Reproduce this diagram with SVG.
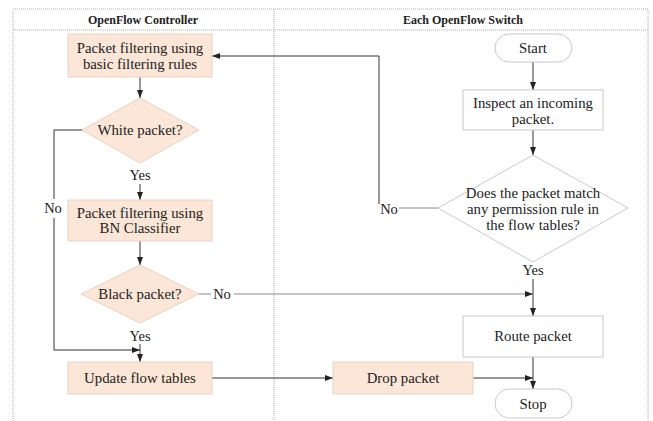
<svg xmlns="http://www.w3.org/2000/svg" width="653" height="421" viewBox="0 0 653 421">
  <style>
    .lane { fill: none; stroke: #9a9a9a; stroke-width: 0.8; stroke-dasharray: 1 1; }
    .hdr { font-family: "Liberation Serif", "Times New Roman", serif; font-weight: bold; font-size: 12px; fill: #222; text-anchor: middle; dominant-baseline: central; }
    .txt { font-family: "Liberation Serif", "Times New Roman", serif; font-size: 14.8px; fill: #222; text-anchor: middle; dominant-baseline: central; }
    .lbl { font-family: "Liberation Serif", "Times New Roman", serif; font-size: 14.5px; fill: #222; text-anchor: middle; dominant-baseline: central; }
    .proc { fill: #fbe6d7; stroke: #e9d2c2; stroke-width: 1; }
    .plain { fill: #ffffff; stroke: #c9c9c9; stroke-width: 1; }
    .edge { fill: none; stroke: #333; stroke-width: 1; }
    .edge-lt { fill: none; stroke: #8a8a8a; stroke-width: 1; }
  </style>
  <defs>
    <marker id="arr" viewBox="0 0 8 6" refX="8" refY="3" markerWidth="8" markerHeight="6" markerUnits="userSpaceOnUse" orient="auto">
      <path d="M0,0 L8,3 L0,6 Z" fill="#222"/>
    </marker>
  </defs>

  <rect width="653" height="421" fill="#ffffff"/>

  <!-- swimlane frame -->
  <g id="lanes">
    <path class="lane" d="M13,421 V9 H648 V421"/>
    <line class="lane" x1="13" y1="30" x2="648" y2="30"/>
    <line class="lane" x1="274" y1="9" x2="274" y2="421"/>
    <text class="hdr" x="143" y="20">OpenFlow Controller</text>
    <text class="hdr" x="463" y="20">Each OpenFlow Switch</text>
  </g>

  <!-- connectors -->
  <g id="connectors">
    <line class="edge" x1="140" y1="77" x2="140" y2="98" marker-end="url(#arr)"/>
    <line class="edge" x1="140" y1="184" x2="140" y2="200" marker-end="url(#arr)"/>
    <path class="edge" d="M82,130 H54 V199"/>
    <path class="edge" d="M54,218 V350 H140" marker-end="url(#arr)"/>
    <line class="edge" x1="140" y1="241" x2="140" y2="265" marker-end="url(#arr)"/>
    <line class="edge-lt" x1="199" y1="294" x2="211" y2="294"/>
    <line class="edge-lt" x1="234" y1="294" x2="533" y2="294" marker-end="url(#arr)"/>
    <line class="edge" x1="140" y1="344" x2="140" y2="362" marker-end="url(#arr)"/>
    <line class="edge" x1="212" y1="378" x2="333" y2="378" marker-end="url(#arr)"/>
    <line class="edge" x1="473" y1="378" x2="533" y2="378" marker-end="url(#arr)"/>
    <line class="edge" x1="533" y1="62" x2="533" y2="90" marker-end="url(#arr)"/>
    <line class="edge" x1="533" y1="130" x2="533" y2="155" marker-end="url(#arr)"/>
    <line class="edge-lt" x1="438" y1="208" x2="399" y2="208"/>
    <path class="edge" d="M379,204 V56 H212" marker-end="url(#arr)"/>
    <line class="edge" x1="533" y1="279" x2="533" y2="316" marker-end="url(#arr)"/>
    <line class="edge" x1="533" y1="357" x2="533" y2="389" marker-end="url(#arr)"/>
    <text class="lbl" x="140" y="175">Yes</text>
    <text class="lbl" x="53" y="208">No</text>
    <text class="lbl" x="222" y="294">No</text>
    <text class="lbl" x="140" y="336">Yes</text>
    <text class="lbl" x="389" y="209">No</text>
    <text class="lbl" x="533" y="270">Yes</text>
  </g>

  <g id="filter-basic">
    <rect class="proc" x="68" y="34" width="144" height="43"/>
    <text class="txt" x="140" y="48">Packet filtering using</text>
    <text class="txt" x="140" y="64">basic filtering rules</text>
  </g>

  <g id="white-packet">
    <polygon class="proc" points="140,98 199,130 140,163 82,130"/>
    <text class="txt" x="140" y="130">White packet?</text>
  </g>

  <g id="filter-bn">
    <rect class="proc" x="68" y="200" width="144" height="41"/>
    <text class="txt" x="140" y="213">Packet filtering using</text>
    <text class="txt" x="140" y="228">BN Classifier</text>
  </g>

  <g id="black-packet">
    <polygon class="proc" points="140,265 199,294 140,323 81,294"/>
    <text class="txt" x="140" y="294">Black packet?</text>
  </g>

  <g id="update-tables">
    <rect class="proc" x="68" y="362" width="144" height="32"/>
    <text class="txt" x="140" y="378">Update flow tables</text>
  </g>

  <g id="drop-packet">
    <rect class="proc" x="333" y="362" width="140" height="32"/>
    <text class="txt" x="403" y="378">Drop packet</text>
  </g>

  <g id="start">
    <rect class="plain" x="495" y="34" width="77" height="28" rx="14"/>
    <text class="txt" x="533" y="48">Start</text>
  </g>

  <g id="inspect">
    <rect class="plain" x="463" y="90" width="140" height="40"/>
    <text class="txt" x="533" y="103">Inspect an incoming</text>
    <text class="txt" x="533" y="119">packet.</text>
  </g>

  <g id="match-rule">
    <polygon class="plain" points="533,155 628,208 533,262 438,208"/>
    <text class="txt" x="533" y="193">Does the packet match</text>
    <text class="txt" x="533" y="209">any permission rule in</text>
    <text class="txt" x="533" y="225">the flow tables?</text>
  </g>

  <g id="route-packet">
    <rect class="plain" x="463" y="316" width="140" height="41"/>
    <text class="txt" x="533" y="336">Route packet</text>
  </g>

  <g id="stop">
    <rect class="plain" x="495" y="389" width="77" height="29" rx="14.5"/>
    <text class="txt" x="533" y="404">Stop</text>
  </g>
</svg>
